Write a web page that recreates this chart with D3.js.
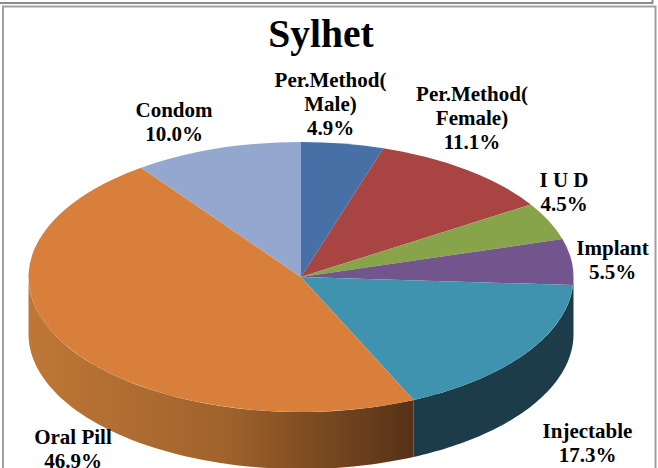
<!DOCTYPE html>
<html><head><meta charset="utf-8">
<script src="https://cdn.jsdelivr.net/npm/d3@7"></script>
<style>html,body{margin:0;padding:0;background:#fff;overflow:hidden}
text{font-family:"Liberation Serif",serif;font-weight:bold;fill:#000;text-anchor:middle}</style>
</head><body><svg id="c" width="658" height="468"></svg>
<script>
const title = "Sylhet";
const categories = ["Per.Method(Male)","Per.Method(Female)","I U D","Implant","Injectable","Oral Pill","Condom"];
const values = [4.9,11.1,4.5,5.5,17.3,46.9,10.0];
const colors = ["#4670A6","#A84442","#88A44A","#72558C","#3F93AE","#D8803B","#94A8CF"];
const labelLines = [["Per.Method(","Male)","4.9%"],["Per.Method(","Female)","11.1%"],["I U D","4.5%"],["Implant","5.5%"],["Injectable","17.3%"],["Oral Pill","46.9%"],["Condom","10.0%"]];
const labelCenters = [[330.5,104.5],[472,118.5],[564,193],[612.5,260.5],[587.5,443.5],[73,449.5],[174,123]];

const cx=301, cy=277, rx=272.5, ry=135, depth=57;
const svg=d3.select("#c");
const defs=svg.append("defs");
const grad=defs.append("linearGradient").attr("id","oralSide").attr("gradientUnits","userSpaceOnUse")
  .attr("x1",cx-rx).attr("x2",415).attr("y1",0).attr("y2",0);
grad.append("stop").attr("offset",0).attr("stop-color","#BE7736");
grad.append("stop").attr("offset",0.5).attr("stop-color","#A1632C");
grad.append("stop").attr("offset",1).attr("stop-color","#553116");

// frames
svg.append("rect").attr("x",-4).attr("y",-6).attr("width",656.5).attr("height",9).attr("fill","#fff").attr("stroke","#8c8c8c").attr("stroke-width",2);
svg.append("rect").attr("x",3).attr("y",6.5).attr("width",652.5).attr("height",480).attr("fill","#fff").attr("stroke","#a0a0a0").attr("stroke-width",2);

const pie=d3.pie().sort(null).value(d=>d)(values);
const px=a=>cx+rx*Math.sin(a), py=a=>cy-ry*Math.cos(a);

// side wall
const g=svg.append("g");
pie.forEach((s,i)=>{
  const a0=Math.max(s.startAngle,Math.PI/2), a1=Math.min(s.endAngle,Math.PI*1.5);
  if(a1<=a0) return;
  const pts=d3.range(0,61).map(k=>a0+(a1-a0)*k/60);
  const top=pts.map(a=>[px(a),py(a)]);
  const bot=pts.slice().reverse().map(a=>[px(a),py(a)+depth]);
  g.append("path").attr("d",d3.line()(top.concat(bot))+"Z")
    .attr("fill",i===5?"url(#oralSide)":"#1B3C48");
});

// top face
const arc=d3.arc().innerRadius(0).outerRadius(rx);
svg.append("g").attr("transform",`translate(${cx},${cy}) scale(1,${ry/rx})`)
  .selectAll("path").data(pie).join("path").attr("d",arc).attr("fill",(d,i)=>colors[i]);

// labels
svg.append("text").attr("x",321).attr("y",47).attr("font-size",39.5).text(title);
labelLines.forEach((lines,i)=>{
  const t=svg.append("text").attr("font-size",21);
  const lh=24, y0=labelCenters[i][1]-(lines.length-1)*lh/2+6;
  lines.forEach((l,k)=>t.append("tspan").attr("x",labelCenters[i][0]).attr("y",y0+k*lh).text(l));
});
</script></body></html>
